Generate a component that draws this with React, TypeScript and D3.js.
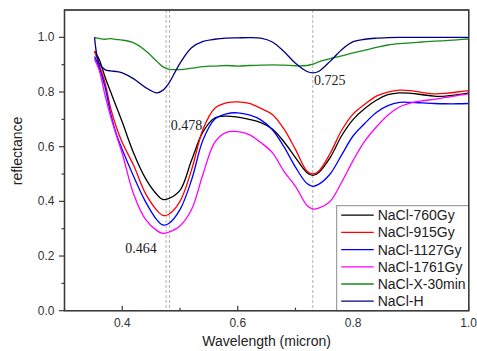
import React from "react";
import * as d3 from "d3";

const wavelength = [0.352, 0.36, 0.37, 0.38, 0.39, 0.40, 0.42, 0.44, 0.46, 0.47, 0.48, 0.50, 0.52, 0.54, 0.56, 0.58, 0.60, 0.62, 0.64, 0.66, 0.68, 0.70, 0.72, 0.73, 0.74, 0.76, 0.78, 0.80, 0.82, 0.84, 0.86, 0.88, 0.90, 0.92, 0.94, 0.96, 0.98, 1.0];

const nacl760 = [0.95, 0.92, 0.856, 0.80, 0.745, 0.69, 0.575, 0.485, 0.425, 0.407, 0.41, 0.44, 0.55, 0.655, 0.705, 0.712, 0.708, 0.70, 0.688, 0.665, 0.618, 0.56, 0.505, 0.495, 0.505, 0.56, 0.64, 0.70, 0.74, 0.77, 0.79, 0.797, 0.795, 0.79, 0.785, 0.785, 0.79, 0.797];
const nacl915 = [0.95, 0.90, 0.835, 0.74, 0.67, 0.615, 0.53, 0.43, 0.367, 0.349, 0.352, 0.40, 0.515, 0.665, 0.74, 0.76, 0.764, 0.758, 0.74, 0.718, 0.665, 0.59, 0.51, 0.50, 0.51, 0.575, 0.66, 0.72, 0.755, 0.785, 0.80, 0.807, 0.805, 0.798, 0.793, 0.795, 0.80, 0.805];
const nacl1127 = [0.93, 0.89, 0.82, 0.72, 0.645, 0.59, 0.49, 0.40, 0.332, 0.314, 0.318, 0.37, 0.478, 0.625, 0.70, 0.72, 0.724, 0.716, 0.698, 0.662, 0.60, 0.525, 0.465, 0.455, 0.462, 0.50, 0.57, 0.64, 0.685, 0.725, 0.75, 0.762, 0.762, 0.76, 0.758, 0.757, 0.757, 0.758];
const nacl1761 = [0.92, 0.88, 0.79, 0.71, 0.64, 0.575, 0.425, 0.335, 0.293, 0.283, 0.287, 0.31, 0.37, 0.50, 0.615, 0.652, 0.655, 0.644, 0.615, 0.578, 0.51, 0.455, 0.385, 0.372, 0.375, 0.40, 0.47, 0.55, 0.62, 0.672, 0.715, 0.745, 0.76, 0.768, 0.773, 0.78, 0.787, 0.793];
const naclX30 = [1.0, 0.996, 0.993, 0.995, 0.992, 0.99, 0.98, 0.952, 0.912, 0.893, 0.884, 0.882, 0.887, 0.893, 0.895, 0.897, 0.895, 0.897, 0.898, 0.899, 0.898, 0.896, 0.897, 0.902, 0.91, 0.922, 0.932, 0.943, 0.953, 0.963, 0.972, 0.977, 0.98, 0.983, 0.986, 0.988, 0.991, 0.994];
const naclH = [1.0, 0.905, 0.882, 0.877, 0.875, 0.87, 0.848, 0.817, 0.797, 0.806, 0.83, 0.905, 0.962, 0.985, 0.993, 0.997, 0.998, 0.999, 0.997, 0.983, 0.948, 0.905, 0.875, 0.87, 0.875, 0.912, 0.955, 0.984, 0.993, 0.997, 0.999, 1.0, 1.0, 1.0, 1.0, 1.0, 1.0, 1.0];

const seriesNames = ["NaCl-760Gy", "NaCl-915Gy", "NaCl-1127Gy", "NaCl-1761Gy", "NaCl-X-30min", "NaCl-H"];
const seriesValues = [nacl760, nacl915, nacl1127, nacl1761, naclX30, naclH];
const seriesColors = ["#000000", "#ff0000", "#0000ff", "#ff00ff", "#1a8a1a", "#000080"];

const xTicks = [0.4, 0.6, 0.8, 1.0];
const xMinorTicks = [0.3, 0.5, 0.7, 0.9];
const yTicks = [0.0, 0.2, 0.4, 0.6, 0.8, 1.0];
const yMinorTicks = [0.1, 0.3, 0.5, 0.7, 0.9];

const markerLines = [0.476, 0.482, 0.730];
const annotations = [
  { text: "0.478", x: 0.484, y: 0.66 },
  { text: "0.464", x: 0.405, y: 0.21 },
  { text: "0.725", x: 0.732, y: 0.825 },
];

const W = 477, H = 351;
const M = { left: 64.5, top: 10, right: 8.3, bottom: 40.3 };

export default function App() {
  const iw = W - M.left - M.right;
  const ih = H - M.top - M.bottom;
  const x = d3.scaleLinear().domain([0.3, 1.0]).range([0, iw]);
  const y = d3.scaleLinear().domain([0, 1.1]).range([ih, 0]);
  const line = d3
    .line<[number, number]>()
    .x((d) => x(d[0]))
    .y((d) => y(d[1]))
    .curve(d3.curveCatmullRom.alpha(0.5));

  const axisColor = "#3a3a3a";
  const sans = "'Liberation Sans', Arial, sans-serif";
  const serif = "'Liberation Serif', 'Times New Roman', serif";

  const legendX = 272.2;
  const legendY = 195.7;
  const rowH = 17.2;

  return (
    <svg width={W} height={H} style={{ position: "absolute", left: 0, top: 0 }}>
      <rect width={W} height={H} fill="#fff" />
      <g transform={`translate(${M.left},${M.top})`}>
        {markerLines.map((m, i) => (
          <line key={i} x1={x(m)} x2={x(m)} y1={0} y2={ih} stroke="#b0b0b0" strokeWidth={1} strokeDasharray="3,2" />
        ))}
        {seriesValues.map((vals, si) => (
          <path
            key={si}
            d={line(wavelength.map((w, i) => [w, vals[i]] as [number, number])) || ""}
            fill="none"
            stroke={seriesColors[si]}
            strokeWidth={1.3}
          />
        ))}
        {annotations.map((a, i) => (
          <text key={i} x={x(a.x)} y={y(a.y)} fontFamily={serif} fontSize={14} fill="#222">
            {a.text}
          </text>
        ))}
        {/* frame */}
        <rect x={0} y={0} width={iw} height={ih} fill="none" stroke={axisColor} strokeWidth={1.3} />
        {/* x ticks (inward) */}
        {xTicks.map((t) => (
          <g key={t}>
            <line x1={x(t)} x2={x(t)} y1={ih} y2={ih - 5} stroke={axisColor} strokeWidth={1.2} />
            <text x={x(t)} y={ih + 16} textAnchor="middle" fontFamily={sans} fontSize={12} fill="#333">
              {t.toFixed(1)}
            </text>
          </g>
        ))}
        {xMinorTicks.map((t) => (
          <line key={t} x1={x(t)} x2={x(t)} y1={ih} y2={ih - 3} stroke={axisColor} strokeWidth={1.2} />
        ))}
        {/* y ticks (outward) */}
        {yTicks.map((t) => (
          <g key={t}>
            <line x1={-5.5} x2={0} y1={y(t)} y2={y(t)} stroke={axisColor} strokeWidth={1.2} />
            <text x={-10} y={y(t) + 4} textAnchor="end" fontFamily={sans} fontSize={12} fill="#333">
              {t.toFixed(1)}
            </text>
          </g>
        ))}
        {yMinorTicks.map((t) => (
          <line key={t} x1={-3} x2={0} y1={y(t)} y2={y(t)} stroke={axisColor} strokeWidth={1.2} />
        ))}
        {/* legend */}
        <rect x={legendX} y={legendY} width={iw - legendX} height={ih - legendY} fill="#fff" stroke="#8a8a8a" strokeWidth={1} />
        {seriesNames.map((n, i) => {
          const cy = legendY + 9.5 + i * rowH;
          return (
            <g key={n}>
              <line x1={legendX + 4.5} x2={legendX + 37} y1={cy} y2={cy} stroke={seriesColors[i]} strokeWidth={1.3} />
              <text x={legendX + 41} y={cy + 5} fontFamily={sans} fontSize={14} fill="#222">
                {n}
              </text>
            </g>
          );
        })}
        <rect x={0} y={0} width={iw} height={ih} fill="none" stroke={axisColor} strokeWidth={1.3} />
      </g>
      <text x={M.left + iw / 2} y={346} textAnchor="middle" fontFamily={sans} fontSize={14} fill="#222">
        Wavelength (micron)
      </text>
      <text transform={`translate(22,151) rotate(-90)`} textAnchor="middle" fontFamily={sans} fontSize={14} fill="#222">
        reflectance
      </text>
    </svg>
  );
}
